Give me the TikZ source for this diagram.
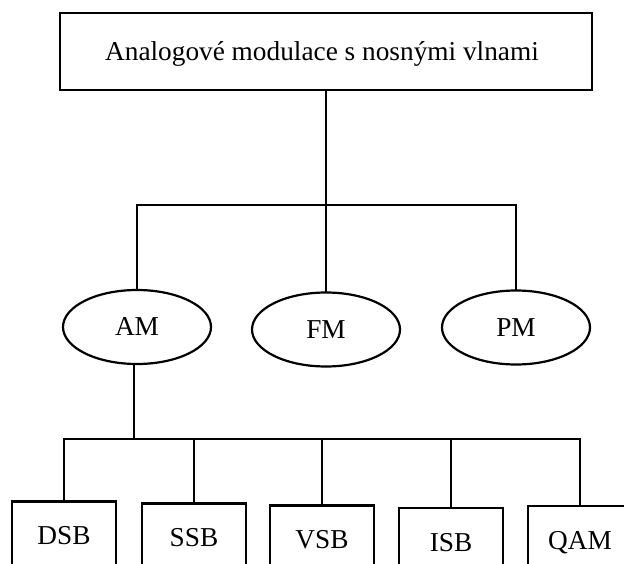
\documentclass[tikz,border=0pt]{standalone}
\usepackage{fontspec}
\setmainfont{Liberation Serif}
\usetikzlibrary{shapes.geometric}
\begin{document}
\begin{tikzpicture}[x=1pt,y=-1pt,
  every node/.style={font=\fontsize{27.3}{30}\selectfont, inner sep=0pt, line width=2.5pt, draw=black},
  topbox/.style={rectangle, minimum width=532pt, minimum height=77pt, text height=19pt, text depth=0pt},
  oval/.style={ellipse, line width=2.2pt, minimum width=148pt, minimum height=74pt, text height=17pt, text depth=0pt},
  leafbox/.style={rectangle, anchor=north, minimum width=104pt, minimum height=70pt, text height=17pt, text depth=0pt},
  link/.style={line width=2.5pt, line cap=rect}]
\fill[white] (0,0) rectangle (624,564);
\clip (0,0) rectangle (624,564);
\useasboundingbox (0,0) rectangle (624,564);

\node[topbox] (top) at (326,51.5) {\hspace*{-8pt}Analogové modulace s nosnými vlnami};

\node[oval] (AM) at (137,327) {AM};
\node[oval] (FM) at (326,329.5) {FM};
\node[oval] (PM) at (516,327.5) {PM};

\node[leafbox] (DSB) at (64,500) {DSB};
\node[leafbox] (SSB) at (194,502) {SSB};
\node[leafbox] (VSB) at (322,504) {VSB};
\node[leafbox] (ISB) at (451,506.5) {ISB};
\node[leafbox] (QAM) at (580,504.5) {QAM};

\coordinate (j1) at (326,205);
\coordinate (j2) at (134,439);

\draw[link] (top.south) -- (j1);
\draw[link] (AM.north) |- (j1) -| (PM.north);
\draw[link] (j1) -- (FM.north);

\draw[link] (j2 |- AM.south) -- (j2);
\draw[link] (DSB.north) |- (j2) -| (QAM.north);
\draw[link] (SSB.north) -- (SSB.north |- j2);
\draw[link] (VSB.north) -- (VSB.north |- j2);
\draw[link] (ISB.north) -- (ISB.north |- j2);
\end{tikzpicture}
\end{document}
